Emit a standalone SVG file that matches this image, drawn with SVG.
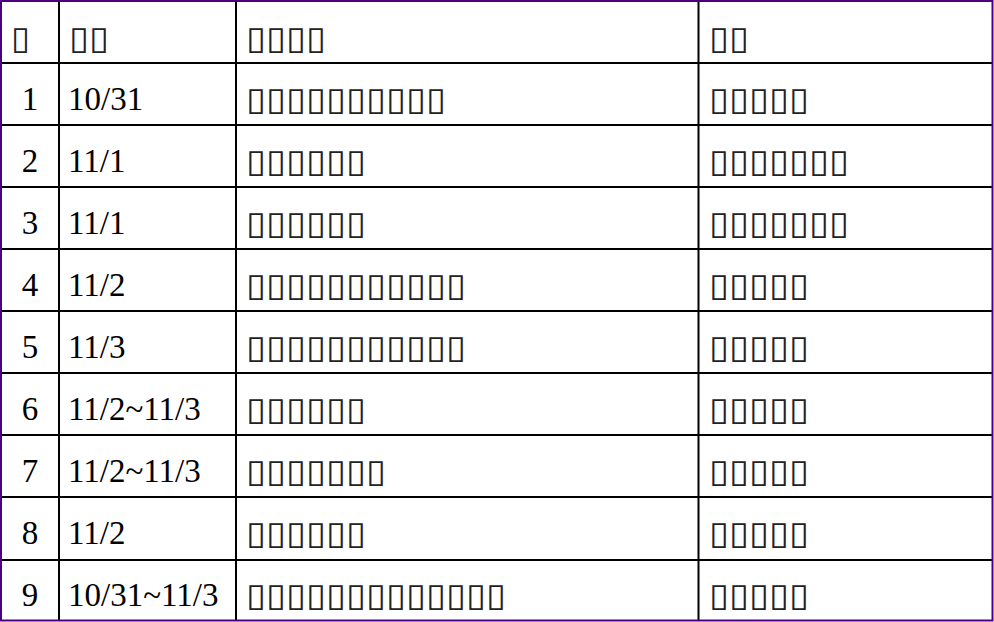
<svg xmlns="http://www.w3.org/2000/svg" width="994" height="622" viewBox="0 0 994 622">
<style>
.t{font-family:"Liberation Serif","Times New Roman",serif;font-size:33px;fill:#000}
.n{text-anchor:middle}
.b{font-family:"DejaVu Sans",sans-serif;font-size:32px;fill:#222}
.g line{stroke:#000;stroke-width:2}
</style>
<rect width="994" height="622" fill="#fff"/>
<g id="grid" class="g">
<line x1="1" y1="63" x2="993" y2="63"/>
<line x1="1" y1="125" x2="993" y2="125"/>
<line x1="1" y1="187" x2="993" y2="187"/>
<line x1="1" y1="249" x2="993" y2="249"/>
<line x1="1" y1="311" x2="993" y2="311"/>
<line x1="1" y1="373" x2="993" y2="373"/>
<line x1="1" y1="435" x2="993" y2="435"/>
<line x1="1" y1="497" x2="993" y2="497"/>
<line x1="1" y1="560" x2="993" y2="560"/>
<line x1="59" y1="1" x2="59" y2="621"/>
<line x1="236" y1="1" x2="236" y2="621"/>
<line x1="698.5" y1="1" x2="698.5" y2="621"/>
</g>
<rect id="border" x="1" y="1" width="991.5" height="619.5" fill="none" stroke="#4b0082" stroke-width="2"/>
<g id="header">
<text class="b" x="11" y="49" textLength="19" lengthAdjust="spacingAndGlyphs">▯</text>
<text class="b" x="69" y="49" textLength="40" lengthAdjust="spacingAndGlyphs">▯▯</text>
<text class="b" x="246" y="49" textLength="80" lengthAdjust="spacingAndGlyphs">▯▯▯▯</text>
<text class="b" x="709" y="49" textLength="40" lengthAdjust="spacingAndGlyphs">▯▯</text>
</g>
<g id="row1">
<text class="t n" x="30" y="110">1</text>
<text class="t" x="68" y="110">10/31</text>
<text class="b" x="246" y="110" textLength="200" lengthAdjust="spacingAndGlyphs">▯▯▯▯▯▯▯▯▯▯</text>
<text class="b" x="709" y="110" textLength="100" lengthAdjust="spacingAndGlyphs">▯▯▯▯▯</text>
</g>
<g id="row2">
<text class="t n" x="30" y="172">2</text>
<text class="t" x="68" y="172">11/1</text>
<text class="b" x="246" y="172" textLength="120" lengthAdjust="spacingAndGlyphs">▯▯▯▯▯▯</text>
<text class="b" x="709" y="172" textLength="140" lengthAdjust="spacingAndGlyphs">▯▯▯▯▯▯▯</text>
</g>
<g id="row3">
<text class="t n" x="30" y="234">3</text>
<text class="t" x="68" y="234">11/1</text>
<text class="b" x="246" y="234" textLength="120" lengthAdjust="spacingAndGlyphs">▯▯▯▯▯▯</text>
<text class="b" x="709" y="234" textLength="140" lengthAdjust="spacingAndGlyphs">▯▯▯▯▯▯▯</text>
</g>
<g id="row4">
<text class="t n" x="30" y="296">4</text>
<text class="t" x="68" y="296">11/2</text>
<text class="b" x="246" y="296" textLength="220" lengthAdjust="spacingAndGlyphs">▯▯▯▯▯▯▯▯▯▯▯</text>
<text class="b" x="709" y="296" textLength="100" lengthAdjust="spacingAndGlyphs">▯▯▯▯▯</text>
</g>
<g id="row5">
<text class="t n" x="30" y="358">5</text>
<text class="t" x="68" y="358">11/3</text>
<text class="b" x="246" y="358" textLength="220" lengthAdjust="spacingAndGlyphs">▯▯▯▯▯▯▯▯▯▯▯</text>
<text class="b" x="709" y="358" textLength="100" lengthAdjust="spacingAndGlyphs">▯▯▯▯▯</text>
</g>
<g id="row6">
<text class="t n" x="30" y="420">6</text>
<text class="t" x="68" y="420">11/2~11/3</text>
<text class="b" x="246" y="420" textLength="120" lengthAdjust="spacingAndGlyphs">▯▯▯▯▯▯</text>
<text class="b" x="709" y="420" textLength="100" lengthAdjust="spacingAndGlyphs">▯▯▯▯▯</text>
</g>
<g id="row7">
<text class="t n" x="30" y="482">7</text>
<text class="t" x="68" y="482">11/2~11/3</text>
<text class="b" x="246" y="482" textLength="140" lengthAdjust="spacingAndGlyphs">▯▯▯▯▯▯▯</text>
<text class="b" x="709" y="482" textLength="100" lengthAdjust="spacingAndGlyphs">▯▯▯▯▯</text>
</g>
<g id="row8">
<text class="t n" x="30" y="544">8</text>
<text class="t" x="68" y="544">11/2</text>
<text class="b" x="246" y="544" textLength="120" lengthAdjust="spacingAndGlyphs">▯▯▯▯▯▯</text>
<text class="b" x="709" y="544" textLength="100" lengthAdjust="spacingAndGlyphs">▯▯▯▯▯</text>
</g>
<g id="row9">
<text class="t n" x="30" y="606">9</text>
<text class="t" x="68" y="606">10/31~11/3</text>
<text class="b" x="246" y="606" textLength="260" lengthAdjust="spacingAndGlyphs">▯▯▯▯▯▯▯▯▯▯▯▯▯</text>
<text class="b" x="709" y="606" textLength="100" lengthAdjust="spacingAndGlyphs">▯▯▯▯▯</text>
</g>
</svg>
